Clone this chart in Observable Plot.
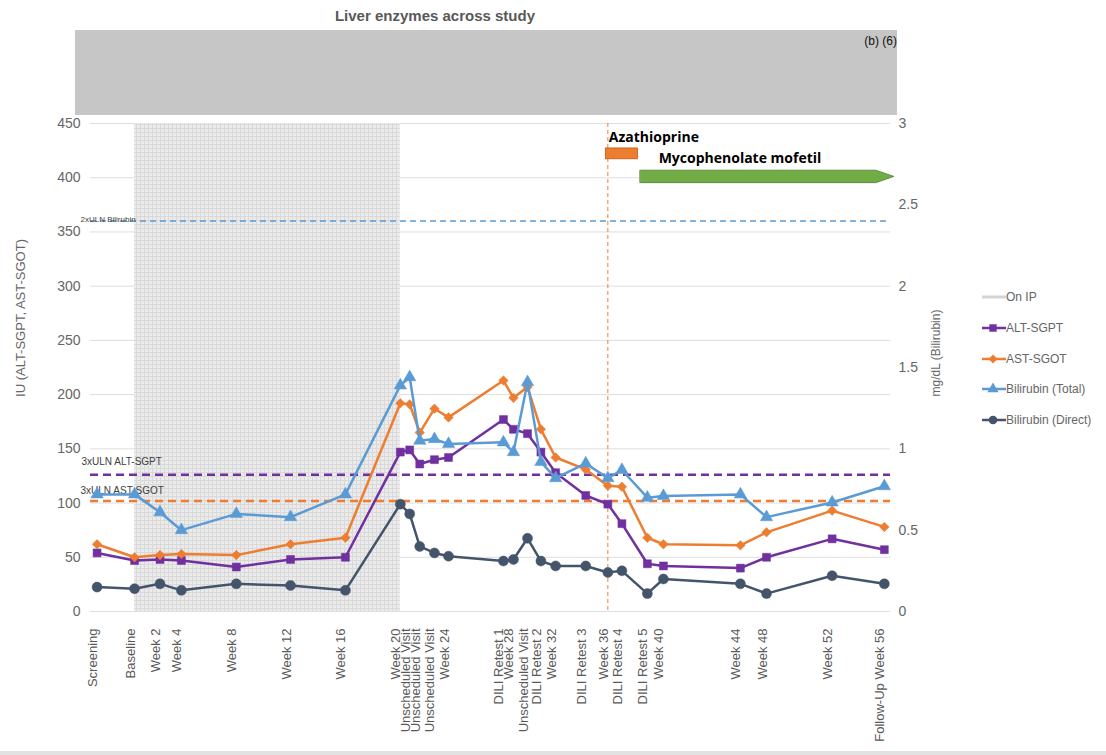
<!DOCTYPE html>
<html>
<head>
<meta charset="utf-8">
<script src="https://cdn.jsdelivr.net/npm/d3@7"></script>
<script src="https://cdn.jsdelivr.net/npm/@observablehq/plot@0.6"></script>
<style>
  body { margin: 0; background: #fff; font-family: "Liberation Sans", Arial, sans-serif; }
  #wrap { position: relative; width: 1106px; height: 755px; overflow: hidden; }
  #chart { position: absolute; left: 0; top: 0; }
  .title { position: absolute; left: 0; width: 870px; top: 7px; text-align: center;
           font-size: 15px; font-weight: bold; color: #595959; }
  .redact { position: absolute; left: 75px; top: 30px; width: 822px; height: 85px; background: #c6c6c6; }
  .redact span { position: absolute; right: 0; top: 4px; font-size: 12px; color: #111; }
  .ytitle { position: absolute; font-size: 13px; color: #666; white-space: nowrap;
            transform: translate(-50%, -50%) rotate(-90deg); }
  .legend { position: absolute; left: 980px; top: 282px; font-size: 12px; color: #666; }
  .legend div { height: 30.7px; display: flex; align-items: center; }
  .bottomline { position: absolute; left: 0; top: 751px; width: 1106px; height: 4px; background: #e2e2e2; }
</style>
</head>
<body>
<div id="wrap">
  <div id="chart"></div>
  <div class="title">Liver enzymes across study</div>
  <div class="redact"><span>(b) (6)</span></div>
  <div class="ytitle" style="left:20px; top:318px;">IU (ALT-SGPT, AST-SGOT)</div>
  <div class="ytitle" style="left:936px; top:353px; font-size:12px;">mg/dL (Bilirubin)</div>
  <div class="legend" id="legend"></div>
  <div class="bottomline"></div>
</div>
<script>
// Visits in study order, with the actual study week each visit fell on
const visitLabels = ["Screening", "Baseline", "Week 2", "Week 4", "Week 8", "Week 12", "Week 16",
  "Week 20", "Unscheduled Visit", "Unscheduled Visit", "Unscheduled Visit", "Week 24",
  "DILI Retest 1", "Week 28", "Unscheduled Visit", "DILI Retest 2", "Week 32", "DILI Retest 3",
  "Week 36", "DILI Retest 4", "DILI Retest 5", "Week 40", "Week 44", "Week 48", "Week 52",
  "Follow-Up Week 56"];
const studyWeek = [-2.8, 0, 1.9, 3.5, 7.6, 11.65, 15.75, 19.85, 20.55, 21.3, 22.4, 23.45,
  27.55, 28.3, 29.35, 30.35, 31.45, 33.7, 35.35, 36.4, 38.3, 39.5, 45.25, 47.2, 52.1, 56.0];

// Lab values (IU)
const altSGPT = [54, 47, 48, 47, 41, 48, 50, 147, 149, 136, 140, 142, 177, 168, 164, 147, 128,
  107, 99, 81, 44, 42, 40, 50, 67, 57];
const astSGOT = [62, 50, 52, 53, 52, 62, 68, 192, 191, 165, 187, 179, 213, 197, 207, 168, 142,
  131, 116, 115, 68, 62, 61, 73, 93, 78];
// Bilirubin (mg/dL)
const biliTotal = [0.72, 0.72, 0.61, 0.50, 0.60, 0.58, 0.72, 1.39, 1.44, 1.05, 1.06, 1.03,
  1.04, 0.98, 1.41, 0.92, 0.82, 0.91, 0.82, 0.87, 0.70, 0.71, 0.72, 0.58, 0.67, 0.77];
const biliDirect = [0.15, 0.14, 0.17, 0.13, 0.17, 0.16, 0.13, 0.66, 0.60, 0.40, 0.36, 0.34,
  0.31, 0.32, 0.45, 0.31, 0.28, 0.28, 0.24, 0.25, 0.11, 0.20, 0.17, 0.11, 0.22, 0.17];

// Reference limits
const ulnALT3x = 126;   // 3 x ULN ALT-SGPT (IU)
const ulnAST3x = 102;   // 3 x ULN AST-SGOT (IU)
const ulnBili2x = 2.4;  // 2 x ULN bilirubin (mg/dL)

// Investigational product period and rescue treatments (study weeks)
const onIP = {start: 0, end: 19.85};
const azathioprine = {start: 35.2, end: 37.6};
const mycophenolate = {start: 37.8, end: 55.4, tip: 56.75};
const treatmentChangeWeek = 35.35;

const leftTicks = d3.range(0, 451, 50);
const rightTicks = [0, 0.5, 1, 1.5, 2, 2.5, 3];
const BILI = 150; // 3 mg/dL on the right axis spans the same height as 450 IU on the left

const colors = {alt: "#7030a0", ast: "#ed7d31", tbil: "#5b9bd5", dbil: "#44546a"};

const rows = visitLabels.map((label, i) => ({
  label, week: studyWeek[i], alt: altSGPT[i], ast: astSGOT[i],
  tbil: biliTotal[i] * BILI, dbil: biliDirect[i] * BILI
}));

const gridPattern = () => {
  const defs = d3.create("svg:defs");
  const p = defs.append("pattern").attr("id", "onip-grid")
    .attr("width", 4).attr("height", 4).attr("patternUnits", "userSpaceOnUse");
  p.append("rect").attr("width", 4).attr("height", 4).attr("fill", "#ebebeb");
  p.append("path").attr("d", "M0 0.5H4M0.5 0V4").attr("stroke", "#d9d9d9").attr("stroke-width", 1);
  return defs.node();
};

const series = (key, symbol, r) => [
  Plot.line(rows, {x: "week", y: key, stroke: colors[key], strokeWidth: 2.5}),
  Plot.dot(rows, {x: "week", y: key, symbol, r, fill: colors[key], stroke: colors[key], strokeWidth: 0.5})
];

const chart = Plot.plot({
  width: 1106,
  height: 755,
  marginLeft: 90,
  marginRight: 216,
  marginTop: 123,
  marginBottom: 144,
  style: {fontFamily: "'Liberation Sans', Arial, sans-serif", color: "#666", background: "transparent"},
  x: {domain: [-3.29, 56.46], axis: null},
  y: {domain: [0, 450], axis: null},
  marks: [
    gridPattern,
    Plot.gridY({ticks: leftTicks, stroke: "#dedede", strokeOpacity: 1}),
    Plot.rect([onIP], {x1: "start", x2: "end", fill: "url(#onip-grid)"}),
    // reference limits
    Plot.ruleY([ulnBili2x * BILI], {stroke: colors.tbil, strokeWidth: 1.5, strokeDasharray: "6,4"}),
    Plot.ruleY([ulnALT3x], {stroke: colors.alt, strokeWidth: 2.5, strokeDasharray: "8,5"}),
    Plot.ruleY([ulnAST3x], {stroke: colors.ast, strokeWidth: 2.5, strokeDasharray: "8,5"}),
    Plot.text([ulnBili2x * BILI], {y: d => d, frameAnchor: "left", dx: -10, dy: -2, text: () => "2xULN Bilirubin",
      textAnchor: "start", fontSize: 8, fill: "#404040"}),
    Plot.text([ulnALT3x], {y: d => d, frameAnchor: "left", dx: -9, dy: -13, text: () => "3xULN ALT-SGPT",
      textAnchor: "start", fontSize: 10, fill: "#404040"}),
    Plot.text([ulnAST3x], {y: d => d, frameAnchor: "left", dx: -10, dy: -10, text: () => "3xULN AST-SGOT",
      textAnchor: "start", fontSize: 10, fill: "#404040"}),
    // treatment change
    Plot.ruleX([treatmentChangeWeek], {stroke: colors.ast, strokeWidth: 1, strokeDasharray: "4,3"}),
    Plot.rect([azathioprine], {x1: "start", x2: "end", y1: 417, y2: 427, fill: colors.ast, stroke: "#c55a11", strokeWidth: 0.8}),
    Plot.areaY([
      {x: mycophenolate.start, lo: 395, hi: 406.5},
      {x: mycophenolate.end, lo: 395, hi: 406.5},
      {x: mycophenolate.tip, lo: 400.75, hi: 400.75}
    ], {x: "x", y1: "lo", y2: "hi", fill: "#70ad47", stroke: "#507e32", strokeWidth: 0.8}),
    Plot.text([azathioprine], {x: "start", y: 437, dx: 3, text: () => "Azathioprine", textAnchor: "start",
      fontWeight: "bold", fontSize: 14, fill: "#000", fontFamily: "'Open Sans', sans-serif"}),
    Plot.text([mycophenolate], {x: "start", y: 418, dx: 18, text: () => "Mycophenolate mofetil", textAnchor: "start",
      fontWeight: "bold", fontSize: 14, fill: "#000", fontFamily: "'Open Sans', sans-serif"}),
    // data series
    ...series("alt", "square", 4.5),
    ...series("ast", "diamond2", 4.3),
    ...series("tbil", "triangle", 4.6),
    ...series("dbil", "circle", 5),
    // axes
    Plot.axisY({anchor: "left", ticks: leftTicks, tickSize: 0, tickPadding: 10, fontSize: 14, label: null}),
    Plot.axisY({anchor: "right", ticks: rightTicks.map(d => d * BILI), tickFormat: d => d / BILI,
      tickSize: 0, tickPadding: 8, fontSize: 14, label: null}),
    Plot.text(rows, {x: "week", text: "label", frameAnchor: "bottom", rotate: -90, textAnchor: "end",
      dy: 17, fontSize: 13, fill: "#595959"})
  ]
});
document.getElementById("chart").append(chart);

// Legend
const legendItems = [
  {label: "On IP", kind: "band"},
  {label: "ALT-SGPT", color: colors.alt, symbol: d3.symbolSquare, size: 55},
  {label: "AST-SGOT", color: colors.ast, symbol: d3.symbolDiamond2, size: 50},
  {label: "Bilirubin (Total)", color: colors.tbil, symbol: d3.symbolTriangle, size: 55},
  {label: "Bilirubin (Direct)", color: colors.dbil, symbol: d3.symbolCircle, size: 60}
];
const legend = d3.select("#legend");
for (const item of legendItems) {
  const row = legend.append("div");
  const svg = row.append("svg").attr("width", 26).attr("height", 12);
  if (item.kind === "band") {
    svg.append("line").attr("x1", 2).attr("x2", 26).attr("y1", 6).attr("y2", 6)
      .attr("stroke", "#d4d4d4").attr("stroke-width", 3);
  } else {
    svg.append("line").attr("x1", 2).attr("x2", 26).attr("y1", 6).attr("y2", 6)
      .attr("stroke", item.color).attr("stroke-width", 2.5);
    svg.append("path").attr("transform", "translate(13,6)")
      .attr("d", d3.symbol(item.symbol, item.size)()).attr("fill", item.color);
  }
  row.append("span").text(item.label);
}
</script>
</body>
</html>
